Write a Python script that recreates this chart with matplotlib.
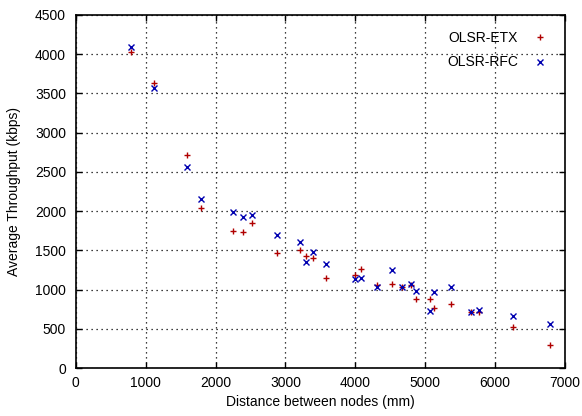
#!/usr/bin/env python3
"""Average throughput versus node distance, OLSR-ETX and OLSR-RFC."""

import matplotlib
matplotlib.use('Agg')
import matplotlib.pyplot as plt

plt.rcParams['font.family'] = ['Liberation Sans', 'DejaVu Sans']
plt.rcParams['font.size'] = 10

# distance between nodes (mm), shared by both series
distance = [788, 1125, 1591, 1786, 2252, 2395, 2524, 2881, 3205, 3300,
            3395, 3581, 4000, 4081, 4310, 4529, 4667, 4800, 4867, 5062,
            5119, 5367, 5652, 5771, 6248, 6786]
etx = [4034, 3635, 2712, 2038, 1742, 1738, 1852, 1470, 1511, 1427,
       1405, 1150, 1184, 1269, 1065, 1074, 1031, 1057, 887, 885,
       763, 822, 716, 720, 521, 297]
rfc = [4089, 3567, 2559, 2160, 1992, 1925, 1949, 1691, 1605, 1350,
       1482, 1329, 1142, 1150, 1031, 1248, 1031, 1074, 979, 725,
       970, 1034, 720, 746, 669, 563]

fig = plt.figure(figsize=(5.82, 4.16), dpi=100)
ax = fig.add_axes([0.130, 0.115, 0.841, 0.849])

ax.plot(distance, etx, linestyle='none', marker='+', markersize=5,
        markeredgewidth=1.0, color='#b00000', label='OLSR-ETX')
ax.plot(distance, rfc, linestyle='none', marker='x', markersize=4.5,
        markeredgewidth=1.0, color='#0000b0', label='OLSR-RFC')

ax.set_xlim(0, 7000)
ax.set_ylim(0, 4500)
ax.set_xticks(range(0, 7001, 1000))
ax.set_yticks(range(0, 4501, 500))
ax.grid(True, color='black', linestyle=(0, (1, 3)), linewidth=0.9)
ax.tick_params(direction='in', top=True, right=True, length=4, width=1)
ax.tick_params(axis='x', pad=6)
ax.tick_params(axis='y', pad=7)
for spine in ax.spines.values():
    spine.set_linewidth(1.2)

ax.set_xlabel('Distance between nodes (mm)', labelpad=3)
ax.set_ylabel('Average Throughput (kbps)', labelpad=10)

leg = ax.legend(loc='upper right', frameon=False, markerfirst=False,
                handlelength=1.5, bbox_to_anchor=(0.995, 0.99),
                labelspacing=0.75)

fig.savefig('out.png', dpi=100)
